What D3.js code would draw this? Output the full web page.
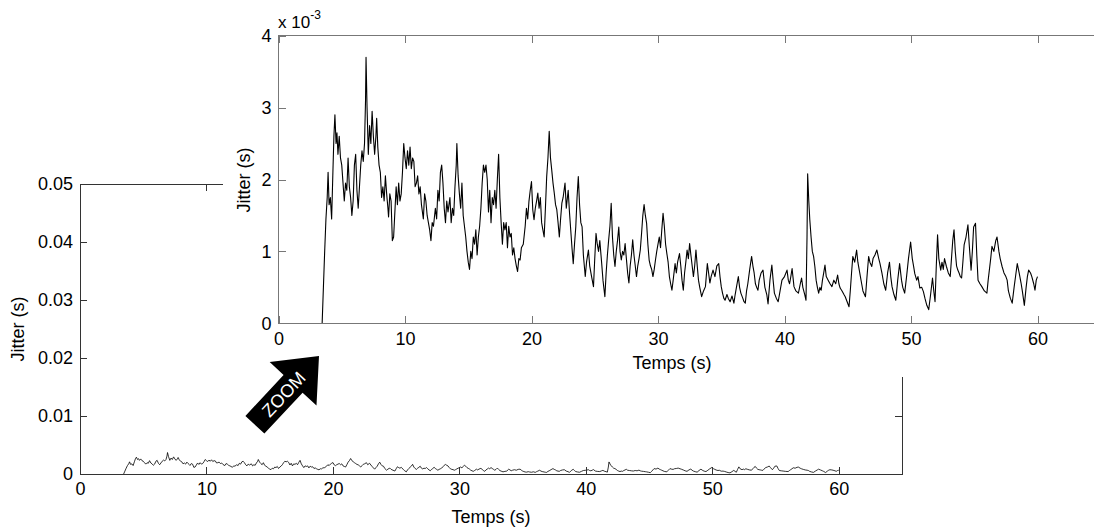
<!DOCTYPE html>
<html>
<head>
<meta charset="utf-8">
<script src="https://cdn.jsdelivr.net/npm/d3@7/dist/d3.min.js"></script>
<style>
    body { margin: 0; background: #fff; }
    svg { display: block; font-family: "Liberation Sans", Arial, sans-serif; }
</style>
</head>
<body>
<svg id="chart" width="1094" height="531"></svg>
<script>

// Time of each sample (s)
var timeS = [
    3.45,3.55,3.65,3.75,3.85,3.92,4.0,4.1,4.2,4.3,
    4.38,4.46,4.55,4.62,4.7,4.8,4.9,5.0,5.1,5.2,
    5.3,5.4,5.5,5.6,5.7,5.8,5.9,6.0,6.1,6.2,
    6.3,6.4,6.5,6.6,6.7,6.8,6.88,6.92,7.0,7.1,
    7.2,7.3,7.4,7.5,7.6,7.7,7.76,7.85,7.95,8.05,
    8.15,8.25,8.35,8.45,8.55,8.65,8.7,8.8,8.9,9.0,
    9.1,9.2,9.3,9.4,9.5,9.6,9.7,9.8,9.9,10.0,
    10.1,10.2,10.3,10.4,10.5,10.6,10.7,10.8,10.9,11.0,
    11.1,11.2,11.3,11.45,11.55,11.65,11.75,11.85,11.95,12.05,
    12.15,12.25,12.4,12.5,12.6,12.7,12.8,12.9,13.0,13.1,
    13.2,13.3,13.4,13.55,13.65,13.75,13.85,13.95,14.05,14.1,
    14.2,14.3,14.4,14.5,14.6,14.7,14.8,14.9,15.0,15.1,
    15.2,15.3,15.4,15.5,15.6,15.7,15.8,15.9,16.0,16.1,
    16.2,16.3,16.4,16.5,16.6,16.7,16.8,16.9,17.0,17.1,
    17.2,17.3,17.4,17.5,17.6,17.7,17.8,17.9,18.0,18.1,
    18.2,18.3,18.4,18.5,18.6,18.7,18.8,18.9,19.0,19.1,
    19.2,19.35,19.5,19.6,19.7,19.8,19.9,20.0,20.1,20.2,
    20.3,20.4,20.5,20.6,20.7,20.8,20.9,21.0,21.1,21.2,
    21.3,21.4,21.5,21.6,21.7,21.8,21.9,22.0,22.1,22.2,
    22.3,22.4,22.5,22.65,22.75,22.9,23.0,23.1,23.2,23.3,
    23.4,23.5,23.6,23.7,23.8,23.9,24.0,24.1,24.25,24.35,
    24.5,24.6,24.75,24.9,25.0,25.1,25.2,25.3,25.4,25.55,
    25.65,25.8,25.9,26.0,26.1,26.2,26.3,26.4,26.5,26.6,
    26.7,26.8,26.9,27.0,27.1,27.2,27.3,27.4,27.5,27.6,
    27.7,27.8,27.9,28.0,28.1,28.2,28.3,28.4,28.5,28.6,
    28.7,28.8,28.9,29.0,29.1,29.2,29.3,29.4,29.5,29.6,
    29.7,29.8,29.9,30.0,30.1,30.2,30.3,30.4,30.5,30.6,
    30.7,30.8,30.9,31.0,31.1,31.2,31.35,31.45,31.55,31.7,
    31.8,31.9,32.0,32.1,32.2,32.3,32.4,32.5,32.6,32.7,
    32.8,32.9,33.0,33.1,33.2,33.3,33.45,33.6,33.75,33.9,
    34.0,34.1,34.2,34.35,34.5,34.65,34.8,34.9,35.0,35.1,
    35.2,35.3,35.45,35.55,35.7,35.85,36.0,36.1,36.2,36.35,
    36.45,36.55,36.7,36.8,36.9,37.0,37.1,37.25,37.4,37.5,
    37.6,37.7,37.8,37.9,38.0,38.15,38.3,38.45,38.6,38.7,
    38.85,39.0,39.1,39.2,39.35,39.5,39.65,39.8,40.0,40.2,
    40.3,40.4,40.5,40.6,40.75,40.9,41.1,41.25,41.35,41.45,
    41.6,41.7,41.78,41.83,41.92,42.0,42.1,42.2,42.3,42.4,
    42.5,42.6,42.7,42.8,42.9,43.0,43.1,43.2,43.3,43.45,
    43.6,43.75,43.9,44.05,44.2,44.3,44.4,44.55,44.7,44.8,
    44.95,45.1,45.2,45.3,45.4,45.55,45.7,45.8,45.9,46.0,
    46.1,46.2,46.4,46.5,46.65,46.75,46.9,47.0,47.15,47.3,
    47.45,47.55,47.7,47.85,48.0,48.15,48.3,48.4,48.5,48.65,
    48.8,48.95,49.1,49.25,49.35,49.5,49.65,49.8,49.97,50.1,
    50.2,50.3,50.45,50.55,50.7,50.85,50.98,51.1,51.25,51.4,
    51.55,51.7,51.8,51.9,52.0,52.1,52.2,52.35,52.45,52.55,
    52.65,52.8,52.95,53.1,53.2,53.3,53.4,53.5,53.6,53.7,
    53.8,53.9,54.0,54.1,54.2,54.35,54.5,54.6,54.75,54.85,
    54.95,55.1,55.2,55.3,55.45,55.6,55.8,56.0,56.1,56.2,
    56.3,56.4,56.55,56.7,56.8,56.95,57.05,57.2,57.35,57.5,
    57.6,57.7,57.85,58.0,58.15,58.3,58.4,58.55,58.7,58.8,
    58.96,59.1,59.2,59.3,59.45,59.55,59.7,59.8,59.9,60.0
];

// Jitter in ms (the zoom axis is x 10^-3 s)
var jitterMs = [
    0,0.5,1.0,1.45,1.75,2.1,1.65,1.75,1.45,2.1,
    2.6,2.9,2.5,2.65,2.35,2.6,2.3,2.2,1.95,1.7,
    1.95,1.85,2.3,1.9,1.75,1.5,1.7,2.2,2.35,1.85,
    1.6,1.9,2.2,2.4,2.25,2.5,3.1,3.7,3.0,2.35,
    2.75,2.5,2.95,2.6,2.35,2.6,2.85,2.45,2.2,2.1,
    1.75,1.9,1.7,2.05,1.8,1.6,1.48,1.8,1.7,1.15,
    1.2,1.55,1.9,1.65,1.95,1.7,1.8,2.1,2.5,2.3,
    2.15,2.4,2.2,2.45,2.15,2.3,2.25,1.9,1.95,2.05,
    1.8,1.9,1.65,1.45,1.8,1.7,1.5,1.4,1.3,1.15,
    1.4,1.35,1.6,1.45,1.85,1.7,2.1,2.2,1.95,1.6,
    1.4,1.7,1.55,1.75,1.4,1.6,1.5,1.9,2.2,2.5,
    2.05,1.8,1.6,1.95,1.5,1.35,1.2,1.0,0.85,0.75,
    1.0,0.9,1.2,1.1,1.3,0.95,1.2,1.35,1.6,1.95,
    2.2,2.1,2.2,2.0,1.55,1.85,1.4,1.75,1.65,1.85,
    1.6,2.0,2.35,1.75,1.4,1.1,1.4,1.3,1.4,1.05,
    1.35,1.2,1.25,0.95,1.05,0.9,0.8,0.72,0.9,0.88,
    1.05,1.1,1.35,1.6,1.45,1.7,1.85,1.97,1.58,1.44,
    1.6,1.7,1.81,1.6,1.75,1.4,1.3,1.2,1.6,2.04,
    2.3,2.67,2.3,2.13,1.95,1.81,1.65,1.58,1.4,1.2,
    1.45,1.67,1.75,1.95,1.6,1.85,1.55,1.3,1.05,0.83,
    1.1,1.34,1.75,2.04,1.65,1.4,1.34,0.95,0.65,0.85,
    1.02,0.8,0.65,0.51,0.9,1.25,1.1,1.0,1.15,0.83,
    0.6,0.37,0.7,0.95,1.16,1.35,1.67,1.2,0.95,0.79,
    1.0,1.15,1.34,1.0,0.88,1.0,0.95,1.11,0.9,0.7,
    0.56,0.8,0.95,1.16,0.95,0.8,0.65,0.8,0.9,1.02,
    1.25,1.5,1.65,1.5,1.39,1.1,0.88,0.8,0.75,0.65,
    0.75,0.88,1.0,1.1,1.2,1.05,1.3,1.53,1.35,1.1,
    0.97,0.85,0.65,0.55,0.46,0.6,0.83,0.7,0.85,0.97,
    0.8,0.6,0.46,0.7,0.85,1.02,0.9,1.11,0.95,0.8,
    0.65,0.8,1.02,0.8,0.6,0.5,0.37,0.45,0.51,0.83,
    0.7,0.56,0.65,0.74,0.65,0.8,0.83,0.65,0.51,0.42,
    0.35,0.32,0.4,0.35,0.3,0.38,0.28,0.4,0.5,0.65,
    0.5,0.42,0.35,0.3,0.28,0.45,0.55,0.75,0.93,0.8,
    0.7,0.55,0.5,0.46,0.6,0.7,0.74,0.5,0.4,0.27,
    0.6,0.81,0.6,0.42,0.35,0.3,0.45,0.6,0.65,0.74,
    0.6,0.55,0.65,0.76,0.51,0.45,0.42,0.55,0.63,0.5,
    0.4,0.32,1.2,2.08,1.7,1.44,1.2,1.0,0.93,0.79,
    0.6,0.5,0.42,0.5,0.46,0.6,0.7,0.81,0.65,0.6,
    0.55,0.51,0.6,0.55,0.67,0.55,0.49,0.45,0.4,0.37,
    0.3,0.23,0.45,0.7,0.93,0.85,1.02,0.85,0.75,0.65,
    0.55,0.45,0.37,0.6,0.93,0.85,0.79,0.9,0.95,1.02,
    0.9,0.83,0.7,0.55,0.46,0.7,0.85,0.65,0.51,0.4,
    0.32,0.6,0.83,0.6,0.5,0.42,0.65,0.9,1.13,0.9,
    0.8,0.69,0.6,0.65,0.49,0.5,0.44,0.35,0.25,0.19,
    0.4,0.63,0.45,0.3,0.8,1.23,0.9,0.74,0.85,0.75,
    0.9,0.79,0.7,0.65,0.9,1.15,1.3,1.0,0.8,0.74,
    0.7,0.65,0.63,0.85,1.09,1.2,1.37,1.1,0.74,1.0,
    1.34,1.39,0.95,0.6,0.55,0.51,0.45,0.42,0.6,0.75,
    0.9,1.07,1.0,1.15,1.2,1.0,0.9,0.79,0.7,0.65,
    0.6,0.45,0.35,0.28,0.5,0.7,0.83,0.7,0.56,0.45,
    0.25,0.5,0.65,0.74,0.7,0.65,0.55,0.46,0.6,0.65
];

// Axis ticks
var xTicks = [0, 10, 20, 30, 40, 50, 60];
var mainYTicks = [0, 0.01, 0.02, 0.03, 0.04, 0.05];
var zoomYTicks = [0, 1, 2, 3, 4];
var xLabel = 'Temps (s)',
    yLabel = 'Jitter (s)',
    arrowLabel = 'ZOOM';


var svg = d3.select('#chart');
var fontSize = 18,
    tickLen = 7;


// Draws one MATLAB-like axes box with inward ticks and the jitter curve
function drawPanel(p) {
    var g = svg.append('g');
    var x = d3.scaleLinear().domain([0, 65]).range([p.left, p.right]);
    var y = d3.scaleLinear().domain(p.yDomain).range([p.bottom, p.top]);

    var line = d3.line()
        .x(function(d){ return x(d[0]); })
        .y(function(d){ return y(d[1] * p.unit); });

    g.append('path')
        .datum(d3.zip(timeS, jitterMs))
        .attr('d', line)
        .attr('fill', 'none')
        .attr('stroke', '#000')
        .attr('stroke-width', p.lineWidth)
        .attr('stroke-linejoin', 'round');

    // box
    g.append('rect')
        .attr('x', p.left).attr('y', p.top)
        .attr('width', p.right - p.left).attr('height', p.bottom - p.top)
        .attr('fill', 'none').attr('stroke', p.axisColor)
        .attr('shape-rendering', 'crispEdges');

    var axes = [
        { a: d3.axisBottom(x).tickValues(xTicks).tickFormat(d3.format('d')).tickPadding(p.xPad), t: 'translate(0,' + p.bottom + ')' },
        { a: d3.axisTop(x).tickValues(xTicks).tickFormat(''), t: 'translate(0,' + p.top + ')' },
        { a: d3.axisLeft(y).tickValues(p.yTicks).tickFormat(p.yFormat).tickPadding(7), t: 'translate(' + p.left + ',0)' },
        { a: d3.axisRight(y).tickValues(p.yTicks).tickFormat(''), t: 'translate(' + p.right + ',0)' }
    ];
    axes.forEach(function(ax){
        var ag = g.append('g')
            .attr('transform', ax.t)
            .call(ax.a.tickSizeInner(-tickLen).tickSizeOuter(0));
        ag.select('.domain').remove();
        ag.selectAll('line').attr('stroke', p.axisColor).attr('shape-rendering', 'crispEdges');
        ag.selectAll('text')
            .attr('fill', '#000')
            .style('font-size', fontSize + 'px')
            .style('font-family', '"Liberation Sans", Arial, sans-serif');
    });
    return g;
}


function addText(str, x, y, opts) {
    opts = opts || {};
    return svg.append('text')
        .attr('x', x).attr('y', y)
        .attr('text-anchor', opts.anchor || 'middle')
        .attr('transform', opts.rotate ? 'rotate(' + opts.rotate + ',' + x + ',' + y + ')' : null)
        .style('font-size', (opts.size || fontSize) + 'px')
        .attr('fill', opts.fill || '#000')
        .text(str);
}


// Main (full-range) plot
drawPanel({
    left: 80, right: 902, top: 184, bottom: 474,
    yDomain: [0, 0.05], unit: 0.001, yTicks: mainYTicks,
    yFormat: function(d){ return d === 0 ? '0' : d3.format('.2f')(d); },
    xPad: 8, lineWidth: 0.8, axisColor: '#333'
});
addText(xLabel, 491, 523);
addText(yLabel, 24, 329, { rotate: -90 });

// white area of the zoom figure pasted on top
svg.append('rect')
    .attr('x', 223).attr('y', 0)
    .attr('width', 1094 - 223).attr('height', 377)
    .attr('fill', '#fff');

// Zoomed plot
drawPanel({
    left: 278.5, right: 1100.75, top: 35.7, bottom: 323.3,
    yDomain: [0, 4], unit: 1, yTicks: zoomYTicks,
    yFormat: d3.format('d'),
    xPad: 9, lineWidth: 1.1, axisColor: '#777'
});
addText(xLabel, 672, 369);
addText(yLabel, 250, 180, { rotate: -90 });

// "x 10^-3" exponent label
var expo = addText('x 10', 278, 28, { anchor: 'start', size: 17 });
expo.append('tspan').attr('dy', -9).style('font-size', '12px').text('-3');


// ZOOM arrow (pointing up-right at the zoomed plot)
var arrow = svg.append('g').attr('transform', 'translate(319,356) rotate(-47)');
arrow.append('polygon')
    .attr('points', [[0,0], [-38,-32], [-38,-13], [-94,-13], [-94,13], [-38,13], [-38,32]].join(' '))
    .attr('fill', '#000');
arrow.append('text')
    .attr('x', -52).attr('y', 0)
    .attr('dy', '0.36em')
    .attr('text-anchor', 'middle')
    .attr('fill', '#fff')
    .style('font-size', '18px')
    .text(arrowLabel);

</script>
</body>
</html>
